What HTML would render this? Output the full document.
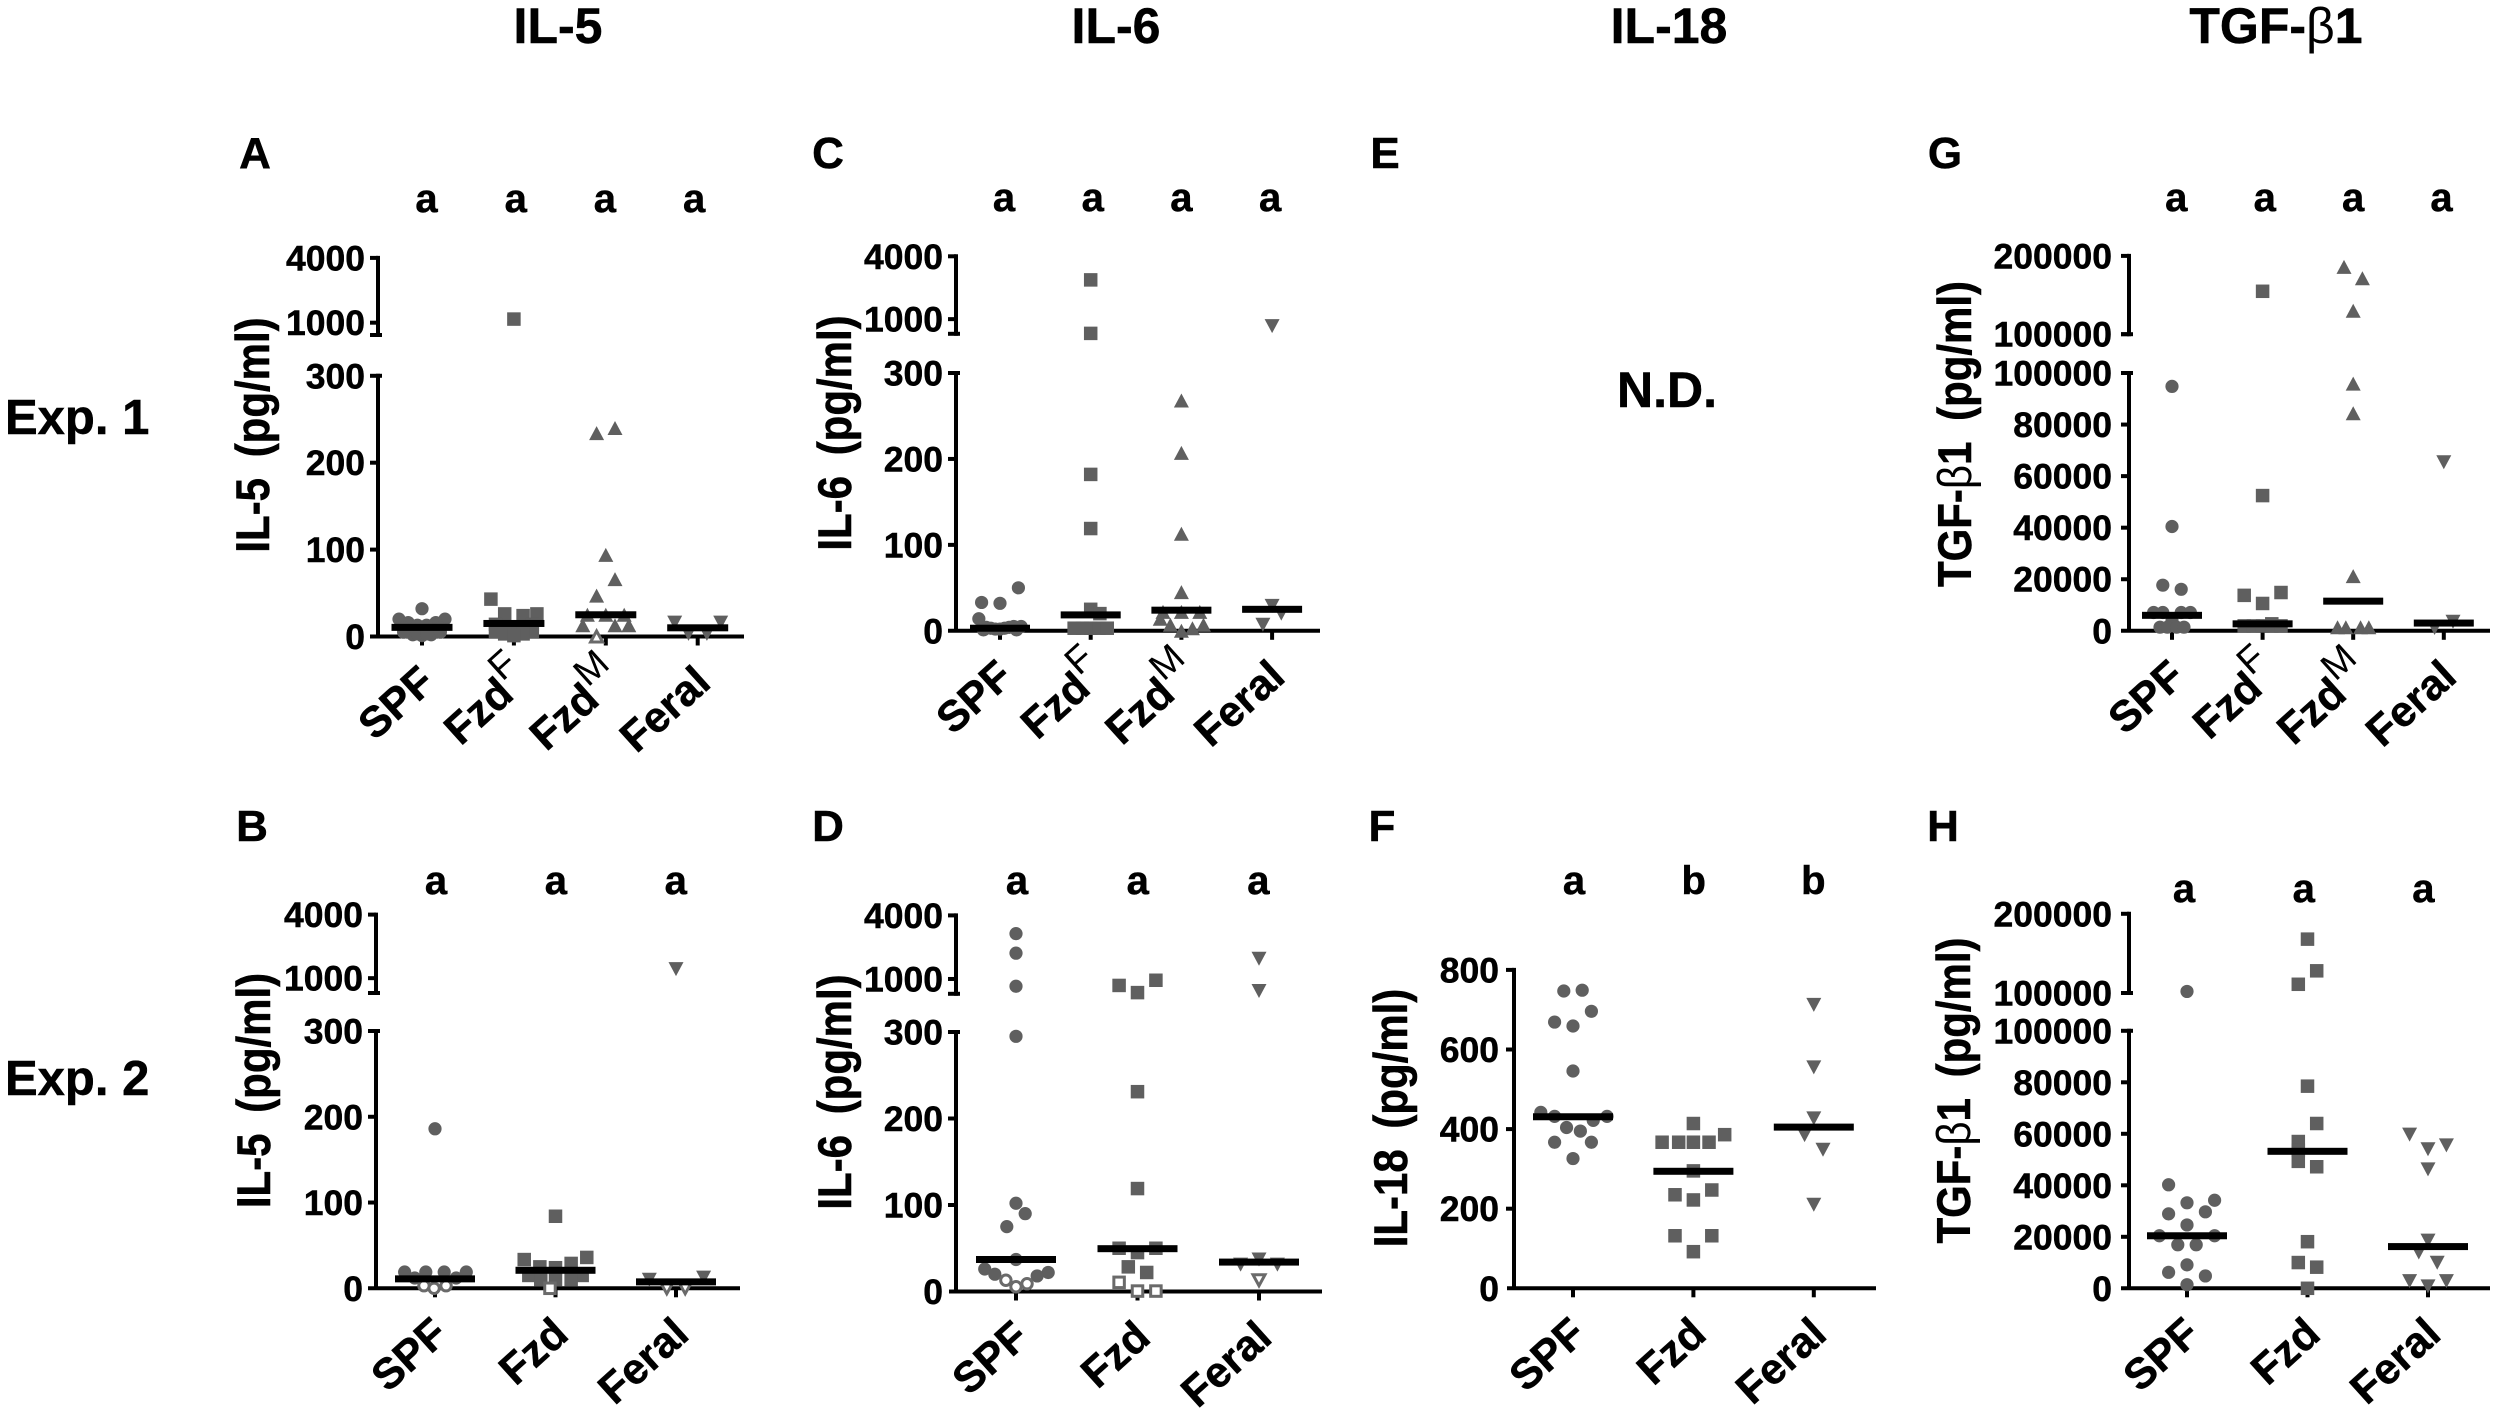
<!DOCTYPE html>
<html lang="en">
<head>
<meta charset="utf-8">
<title>Cytokine levels by group</title>
<style>
html,body{margin:0;padding:0;background:#fff;}
svg{display:block;}
text{font-family:"Liberation Sans",Arial,sans-serif;font-weight:bold;fill:#000;stroke:#000;stroke-width:0.5px;}
.col-title{font-size:50px;text-anchor:middle;}
.panel-letter{font-size:44px;text-anchor:middle;}
.row-title{font-size:49px;}
.thin{font-weight:normal;stroke-width:0;}
</style>
</head>
<body>
<svg id="figure" xmlns="http://www.w3.org/2000/svg" width="2500" height="1414" viewBox="0 0 2500 1414">
  <rect width="2500" height="1414" fill="#fff"/>
  <text class="col-title" x="558" y="43">IL-5</text>
  <text class="col-title" x="1116" y="43">IL-6</text>
  <text class="col-title" x="1669" y="43">IL-18</text>
  <text class="col-title" x="2276" y="43">TGF-<tspan class="thin">β</tspan>1</text>
  <text class="row-title" x="5" y="434">Exp. 1</text>
  <text class="row-title" x="5" y="1095">Exp. 2</text>
  <text class="panel-letter" x="255" y="168">A</text>
  <text class="panel-letter" x="252" y="841">B</text>
  <text class="panel-letter" x="828" y="168">C</text>
  <text class="panel-letter" x="828" y="841">D</text>
  <text class="panel-letter" x="1385" y="168">E</text>
  <text class="panel-letter" x="1382" y="841">F</text>
  <text class="panel-letter" x="1945" y="168">G</text>
  <text class="panel-letter" x="1943" y="841">H</text>
  <text x="1667" y="407" font-size="50" text-anchor="middle">N.D.</text>
</svg>
<script>
/* ---------- shared category and tick labels ---------- */
const catsFour = ['SPF', 'Fzd^F', 'Fzd^M', 'Feral'];
const catsThree = ['SPF', 'Fzd', 'Feral'];
const ilLowerTicks = [0, 100, 200, 300];
const ilUpperTicks = [1000, 4000];
const tgfLowerTicks = [0, 20000, 40000, 60000, 80000, 100000];
const tgfUpperTicks = [100000, 200000];
const il18Ticks = [0, 200, 400, 600, 800];

/* ---------- Panel A: IL-5, Exp. 1 ---------- */
const aLetters = ['a', 'a', 'a', 'a'];
const aMedians = [10.5, 15, 25, 10];
const aSpf = [32, 20, 20, 16, 16, 13, 13, 10, 10, 8, 8, 6, 6, 4, 4, 2, 2, 1, 5, 5, 3, 3];
const aSpfSwarm = [0, -2.5, 2.5, -1.5, 1.5, -0.5, 0.5, -2, 2, -1, 1, -1.5, 1.5, -0.5, 0.5, -1, 1, 0, -2, 2, -0.5, 0.5];
const aSpfOpen = [];
const aFzdF = [1167, 43, 26, 26, 24, 14, 14, 10, 10, 6, 6, 6, 3, 3, 1];
const aFzdFSwarm = [0, -2.5, -1, 2.5, 1, -2, 2, -1, 1, -2, 0, 2, -1, 1, 0];
const aFzdFOpen = [];
const aFzdM = [240, 234, 94, 66, 47, 25, 25, 25, 13, 13, 13, 0];
const aFzdMSwarm = [1, -1, 0, 1, -1, -2, 0, 2, -2.5, 1, 2.5, -1];
const aFzdMOpen = [11];
const aFeral = [16, 16, 3, 3];
const aFeralSwarm = [-2.5, 2.5, -1, 1];
const aFeralOpen = [];

/* ---------- Panel B: IL-5, Exp. 2 ---------- */
const bLetters = ['a', 'a', 'a'];
const bMedians = [11, 21, 7.5];
const bSpf = [186, 19, 19, 19, 19, 12, 12, 3, 3, 0];
const bSpfSwarm = [0, -3.3, -1, 1, 3.4, -2.2, 2.3, -1.2, 1.2, -0.1];
const bSpfOpen = [7, 8, 9];
const bFzd = [84, 36, 33.5, 29, 25, 24, 15, 15, 10, 10, 10, 0];
const bFzdSwarm = [0, 3.4, -3.4, 1.7, -1.7, 0, -2.9, 2.9, -1.6, 1.7, 0, -0.6];
const bFzdOpen = [11];
const bFeral = [1428, 12.5, 10, 0, 0];
const bFeralSwarm = [0, 3, -2.9, -1, 1];
const bFeralOpen = [3, 4];

/* ---------- Panel C: IL-6, Exp. 1 ---------- */
const cLetters = ['a', 'a', 'a', 'a'];
const cMedians = [3, 18.5, 24, 25];
const cSpf = [50, 33, 32, 14, 5, 5, 4, 4, 3, 3, 2, 2, 1, 1];
const cSpfSwarm = [2, -2, 0, -2.3, 2.3, 1.5, -1.5, 1, -1, 0.5, -0.5, 0, -1.8, 1.8];
const cSpfOpen = [];
const cFzdF = [2874, 320, 182, 119, 25, 20, 3, 3, 3, 3, 3];
const cFzdFSwarm = [0, 0, 0, 0, 0, 1, -1.8, -0.9, 0, 0.9, 1.8];
const cFzdFOpen = [];
const cFzdM = [268, 207, 113, 45, 22, 22, 22, 14, 7, 7, 3, 0];
const cFzdMSwarm = [0, 0, 0, 0, -2, 0, 2, -2.3, -1.2, 2.4, 1.2, 0];
const cFzdMOpen = [];
const cFeral = [668, 29, 20, 7];
const cFeralSwarm = [0, 0, 1, -1];
const cFeralOpen = [];

/* ---------- Panel D: IL-6, Exp. 2 ---------- */
const dLetters = ['a', 'a', 'a'];
const dMedians = [37, 49.5, 34];
const dSpf = [3139, 2218, 657, 295, 102, 90, 75, 37, 26, 22, 20, 18, 13, 9, 5.5];
const dSpfSwarm = [0, 0, 0, 0, 0, 1, -1, 0, -3.4, 3.5, -2.3, 2.3, -1.1, 1.2, 0];
const dSpfOpen = [12, 13, 14];
const dFzd = [939, 695, 356, 231, 119, 50, 50, 45, 28.5, 22, 10.6, 0.5, 0.5];
const dFzdSwarm = [2, -2, 0, 0, 0, -2, 2, 0, -1, 1, -2, 0, 2];
const dFzdOpen = [10, 11, 12];
const dFeral = [1954, 432, 37, 31, 31, 13];
const dFeralSwarm = [0, 0, 0, -2, 2, 0];
const dFeralOpen = [5];

/* ---------- Panel F: IL-18, Exp. 2 ---------- */
const fLetters = ['a', 'b', 'b'];
const fMedians = [431, 294, 405];
const fSpf = [749, 747, 696, 669, 659, 546, 442, 432, 432, 422, 404, 395, 367, 367, 326];
const fSpfSwarm = [1, -1, 2, -2, 0, 0, -3.5, -2, 3.7, 2.2, -0.7, 0.8, -2, 2, 0];
const fSpfOpen = [];
const fFzd = [414, 386, 367, 367, 367, 367, 295, 247, 235, 222, 132, 132, 92];
const fFzdSwarm = [0, 3.4, -3.4, -1.6, 0, 1.7, 0, 2, -2, 0, -2, 2, 0];
const fFzdOpen = [];
const fFeral = [712, 555, 427, 385, 348, 210];
const fFeralSwarm = [0, 0, 0, -1, 1, 0];
const fFeralOpen = [];

/* ---------- Panel G: TGF-b1, Exp. 1 ---------- */
const gLetters = ['a', 'a', 'a', 'a'];
const gMedians = [6000, 2700, 11500, 3000];
const gSpf = [94800, 40450, 17700, 16100, 7100, 7100, 7100, 7100, 4000, 1400, 1400, 1400, 1400];
const gSpfSwarm = [0, 0, -1, 1, -2, -1, 1, 2, 0, -1.3, -0.5, 0.5, 1.3];
const gSpfOpen = [];
const gFzdF = [154800, 52450, 14850, 13750, 10600, 2700, 1900, 1900, 1900, 1900, 1900];
const gFzdFSwarm = [0, 0, 2, -2, 0, 1, -2, -1, 0, 1, 2];
const gFzdFOpen = [];
const gFzdM = [186000, 171500, 130000, 95900, 84400, 21200, 1400, 1400, 1400, 1400];
const gFzdMSwarm = [-1, 1, 0, 0, 0, 0, -1.7, -0.8, 0.8, 1.7];
const gFzdMOpen = [];
const gFeral = [65400, 3500, 1100];
const gFeralSwarm = [0, 1, -1];
const gFeralOpen = [];

/* ---------- Panel H: TGF-b1, Exp. 2 ---------- */
const hLetters = ['a', 'a', 'a'];
const hMedians = [20400, 53200, 16200];
const hSpf = [102000, 40200, 34200, 33200, 29700, 28900, 24600, 20400, 20400, 16900, 16900, 9100, 6200, 4800, 1400];
const hSpfSwarm = [0, -2, 3, 0, 2, -2, 0, -3, 3, -1, 1, 0, -2, 2, 0];
const hSpfOpen = [];
const hFzd = [168000, 128000, 111000, 78500, 64000, 57000, 53600, 49300, 47200, 18100, 10000, 8200, 0];
const hFzdSwarm = [0, 1, -1, 0, 1, -1, -1, -1, 1, 0, -1, 1, 0];
const hFzdOpen = [];
const hFeral = [59700, 55500, 54000, 46200, 18500, 13900, 9900, 2800, 2800, 770];
const hFeralSwarm = [-2, 2, 0, 0, 0, -1, 1, -2, 2, 0];
const hFeralOpen = [];

/* ---------- panel assembly ---------- */
const panels = [
  {key:'a', yTitle:'IL-5 (pg/ml)', cats:catsFour, letters:aLetters, medians:aMedians,
   values:[aSpf,aFzdF,aFzdM,aFeral], swarm:[aSpfSwarm,aFzdFSwarm,aFzdMSwarm,aFeralSwarm], open:[aSpfOpen,aFzdFOpen,aFzdMOpen,aFeralOpen],
   lowerTicks:ilLowerTicks, upperTicks:ilUpperTicks, upperMin:430,
   frame:{axisX:378,xStart:370,xEnd:744,y0:636.5,lowerTop:375.8,upperBottom:335,upperTop:257.9,tick0:422,tickStep:91.9,let0:426.5,letStep:89.2,letY:212,barW:61,titleX:269,titleY:435,labelGap:13}},
  {key:'c', yTitle:'IL-6 (pg/ml)', cats:catsFour, letters:cLetters, medians:cMedians,
   values:[cSpf,cFzdF,cFzdM,cFeral], swarm:[cSpfSwarm,cFzdFSwarm,cFzdMSwarm,cFeralSwarm], open:[cSpfOpen,cFzdFOpen,cFzdMOpen,cFeralOpen],
   lowerTicks:ilLowerTicks, upperTicks:ilUpperTicks, upperMin:300,
   frame:{axisX:956,xStart:948,xEnd:1320,y0:630.8,lowerTop:373,upperBottom:333.8,upperTop:256.3,tick0:1000,tickStep:90.7,let0:1004,letStep:88.7,letY:211,barW:60,titleX:851,titleY:433,labelGap:13}},
  {key:'g', yTitle:'TGF-β1 (pg/ml)', cats:catsFour, letters:gLetters, medians:gMedians,
   values:[gSpf,gFzdF,gFzdM,gFeral], swarm:[gSpfSwarm,gFzdFSwarm,gFzdMSwarm,gFeralSwarm], open:[gSpfOpen,gFzdFOpen,gFzdMOpen,gFeralOpen],
   lowerTicks:tgfLowerTicks, upperTicks:tgfUpperTicks, upperMin:100000,
   frame:{axisX:2129,xStart:2121,xEnd:2490,y0:630.8,lowerTop:373,upperBottom:334.2,upperTop:255.9,tick0:2172,tickStep:90.6,let0:2176.3,letStep:88.4,letY:211,barW:60,titleX:1971,titleY:434,labelGap:17}},
  {key:'b', yTitle:'IL-5 (pg/ml)', cats:catsThree, letters:bLetters, medians:bMedians,
   values:[bSpf,bFzd,bFeral], swarm:[bSpfSwarm,bFzdSwarm,bFeralSwarm], open:[bSpfOpen,bFzdOpen,bFeralOpen],
   lowerTicks:ilLowerTicks, upperTicks:ilUpperTicks, upperMin:300,
   frame:{axisX:376,xStart:368,xEnd:740,y0:1288.3,lowerTop:1031,upperBottom:993,upperTop:914.6,tick0:435,tickStep:120.5,let0:436,letStep:119.9,letY:894,barW:80,titleX:270,titleY:1090.5,labelGap:13}},
  {key:'d', yTitle:'IL-6 (pg/ml)', cats:catsThree, letters:dLetters, medians:dMedians,
   values:[dSpf,dFzd,dFeral], swarm:[dSpfSwarm,dFzdSwarm,dFeralSwarm], open:[dSpfOpen,dFzdOpen,dFeralOpen],
   lowerTicks:ilLowerTicks, upperTicks:ilUpperTicks, upperMin:300,
   frame:{axisX:956,xStart:949,xEnd:1322,y0:1291.5,lowerTop:1032,upperBottom:993.8,upperTop:915.4,tick0:1016,tickStep:121.5,let0:1017,letStep:120.7,letY:894,barW:80,titleX:851,titleY:1092,labelGap:13}},
  {key:'f', yTitle:'IL-18 (pg/ml)', cats:catsThree, letters:fLetters, medians:fMedians,
   values:[fSpf,fFzd,fFeral], swarm:[fSpfSwarm,fFzdSwarm,fFeralSwarm], open:[fSpfOpen,fFzdOpen,fFeralOpen],
   lowerTicks:il18Ticks, upperTicks:null, upperMin:null,
   frame:{axisX:1514,xStart:1507,xEnd:1876,y0:1288.3,lowerTop:969.9,upperBottom:null,upperTop:null,tick0:1573,tickStep:120.4,let0:1574,letStep:119.7,letY:894,barW:80,titleX:1407,titleY:1118,labelGap:15}},
  {key:'h', yTitle:'TGF-β1 (pg/ml)', cats:catsThree, letters:hLetters, medians:hMedians,
   values:[hSpf,hFzd,hFeral], swarm:[hSpfSwarm,hFzdSwarm,hFeralSwarm], open:[hSpfOpen,hFzdOpen,hFeralOpen],
   lowerTicks:tgfLowerTicks, upperTicks:tgfUpperTicks, upperMin:100000,
   frame:{axisX:2129,xStart:2121,xEnd:2490,y0:1288.3,lowerTop:1030.8,upperBottom:993,upperTop:913.8,tick0:2187,tickStep:120.5,let0:2184,letStep:119.7,letY:902,barW:80,titleX:1970,titleY:1090.5,labelGap:17}}
];

const SVGNS = 'http://www.w3.org/2000/svg';
const AXIS_W = 4;
const SLOT = 9.2;
const MARK = '#5f5f5f';

function mk(parent, tag, attrs) {
  const el = document.createElementNS(SVGNS, tag);
  for (const k in attrs) el.setAttribute(k, attrs[k]);
  parent.appendChild(el);
  return el;
}

function makeY(p) {
  const f = p.frame;
  const lowerMax = p.lowerTicks[p.lowerTicks.length - 1];
  const upperMax = p.upperTicks ? p.upperTicks[p.upperTicks.length - 1] : null;
  return function (v) {
    if (p.upperTicks && v > lowerMax) {
      return f.upperBottom - (v - p.upperMin) / (upperMax - p.upperMin) * (f.upperBottom - f.upperTop);
    }
    return f.y0 - v / lowerMax * (f.y0 - f.lowerTop);
  };
}

function upperY(p, v) {
  const f = p.frame;
  const upperMax = p.upperTicks[p.upperTicks.length - 1];
  return f.upperBottom - (v - p.upperMin) / (upperMax - p.upperMin) * (f.upperBottom - f.upperTop);
}

function axisLine(g, x1, y1, x2, y2) {
  const el = mk(g, 'line', {x1: x1, y1: y1, x2: x2, y2: y2, stroke: '#000', 'stroke-width': AXIS_W});
  
  
  return el;
}

function tickLabel(g, x, y, str) {
  const el = mk(g, 'text', {x: x, y: y + 12.5, 'font-size': 35.5, 'text-anchor': 'end'});
  el.textContent = str;
  
  
}

function drawMark(g, shape, cx, cy, hollow) {
  const fill = hollow ? '#fff' : MARK;
  const stroke = hollow ? '#6a6a6a' : 'none';
  const sw = hollow ? 3 : 0;
  let el;
  if (shape === 'circle') {
    el = mk(g, 'circle', {cx: cx, cy: cy, r: hollow ? 5.2 : 6.6, fill: fill, stroke: stroke, 'stroke-width': sw});
  } else if (shape === 'square') {
    const s = hollow ? 10.5 : 13.5;
    el = mk(g, 'rect', {x: cx - s / 2, y: cy - s / 2, width: s, height: s, fill: fill, stroke: stroke, 'stroke-width': sw});
  } else {
    const d = shape === 'up' ? 1 : -1;
    const w = hollow ? 6 : 7.5;
    const h = hollow ? 5.5 : 7;
    const pts = (cx - w) + ',' + (cy + d * h) + ' ' + (cx + w) + ',' + (cy + d * h) + ' ' + cx + ',' + (cy - d * h);
    el = mk(g, 'polygon', {points: pts, fill: fill, stroke: stroke, 'stroke-width': sw});
  }
  
  
}

const shapeFor = {'SPF': 'circle', 'Fzd': 'square', 'Fzd^F': 'square', 'Fzd^M': 'up', 'Feral': 'down'};
const svg = document.getElementById('figure');

panels.forEach(function (p) {
  const f = p.frame;
  const y = makeY(p);
  const x = function (i) { return f.tick0 + i * f.tickStep; };
  const g = mk(svg, 'g', {});
  
  

  /* y title: glyphs in the figure are slightly taller than wide */
  const t = mk(g, 'text', {transform: 'translate(' + f.titleX + ',' + f.titleY + ') rotate(-90) scale(1,1.13)', 'font-size': 42, 'text-anchor': 'middle', 'word-spacing': 9});
  
  
  const m = p.yTitle.match(/^(.*)β(.*)$/);
  if (m) {
    t.appendChild(document.createTextNode(m[1]));
    const beta = mk(t, 'tspan', {'font-weight': 'normal', 'stroke-width': 0});
    beta.textContent = 'β';
    t.appendChild(document.createTextNode(m[2]));
  } else {
    t.textContent = p.yTitle;
  }

  /* axes */
  const labelX = f.axisX - f.labelGap;
  const capR = f.axisX + 4;
  const tickL = f.axisX - 8;
  axisLine(g, f.axisX, f.y0, f.axisX, f.lowerTop - 2);
  p.lowerTicks.forEach(function (v, i) {
    const isTop = i === p.lowerTicks.length - 1 && p.upperTicks;
    if (i > 0) axisLine(g, tickL, y(v), isTop ? capR : f.axisX, y(v));
    tickLabel(g, labelX, y(v), String(v));
  });
  if (p.upperTicks) {
    axisLine(g, f.axisX, f.upperBottom + 2, f.axisX, f.upperTop - 2);
    axisLine(g, tickL, f.upperBottom, capR, f.upperBottom);
    p.upperTicks.forEach(function (v) {
      const yy = upperY(p, v);
      axisLine(g, tickL, yy, f.axisX, yy);
      tickLabel(g, labelX, yy, String(v));
    });
  }
  axisLine(g, f.xStart, f.y0, f.xEnd, f.y0);

  p.cats.forEach(function (cat, i) {
    axisLine(g, x(i), f.y0, x(i), f.y0 + 9);

    /* category label */
    const parts = cat.split('^');
    const supShift = parts[1] ? 4 : 0;
    const lab = mk(g, 'text', {transform: 'translate(' + (x(i) + 15 + supShift) + ',' + (f.y0 + 49 - supShift) + ') rotate(-42)', 'font-size': 43, 'text-anchor': 'end'});
    
    
    lab.appendChild(document.createTextNode(parts[0]));
    if (parts[1]) {
      const sup = mk(lab, 'tspan', {dy: -20, 'font-size': 38, 'font-weight': 'normal', 'stroke-width': 0});
      sup.textContent = parts[1];
    }

    /* significance letter */
    const sig = mk(g, 'text', {x: f.let0 + i * f.letStep, y: f.letY, 'font-size': 40, 'text-anchor': 'middle'});
    sig.textContent = p.letters[i];
    
    

    /* points */
    const shape = shapeFor[cat];
    p.values[i].forEach(function (v, j) {
      drawMark(g, shape, x(i) + p.swarm[i][j] * SLOT, y(v), p.open[i].indexOf(j) >= 0);
    });

    /* median bar */
    const bar = mk(g, 'rect', {x: x(i) - f.barW / 2, y: y(p.medians[i]) - 3.5, width: f.barW, height: 7, fill: '#000'});
    
    
  });
});
</script>
</body>
</html>
